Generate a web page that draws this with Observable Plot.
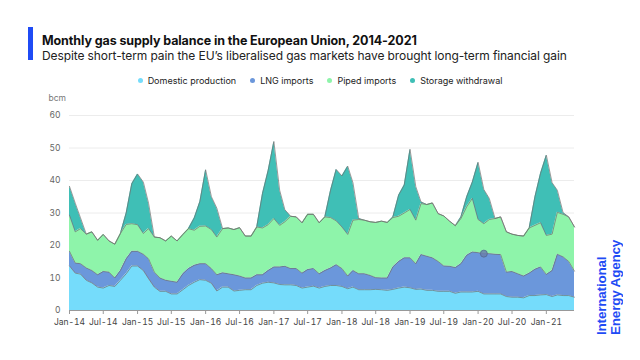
<!DOCTYPE html>
<html><head><meta charset="utf-8">
<script src="https://cdn.jsdelivr.net/npm/d3@7"></script>
<script src="https://cdn.jsdelivr.net/npm/@observablehq/plot@0.6"></script>
<style>
body{margin:0;width:640px;height:360px;background:#fff;font-family:Inter,"Noto Sans",sans-serif;position:relative;overflow:hidden}
#bar{position:absolute;left:28px;top:27px;width:5px;height:33px;background:#1f4bf5}
#title{position:absolute;left:42px;top:33px;font-size:12.5px;font-weight:700;color:#111;white-space:nowrap;letter-spacing:-0.1px}
#sub{position:absolute;left:42px;top:48px;font-size:12px;color:#222;white-space:nowrap;letter-spacing:-0.1px}
#legend{position:absolute;top:75px;left:0;width:640px;text-align:center;font-size:9px;color:#222;white-space:nowrap}
#legend span.item{margin:0 7px}
#legend span.dot{display:inline-block;width:5px;height:5px;border-radius:50%;margin-right:5px;vertical-align:1px}
#chart{position:absolute;left:0;top:90px}
#iea{position:absolute;left:595px;top:238px;height:97px;writing-mode:vertical-rl;transform:rotate(180deg);font-family:"Liberation Sans",Arial,sans-serif;font-weight:700;font-size:13.5px;line-height:14px;color:#1f4bf5;text-align:start;letter-spacing:-0.2px}
</style></head>
<body>
<div id="bar"></div>
<div id="title">Monthly gas supply balance in the European Union, 2014-2021</div>
<div id="sub">Despite short-term pain the EU’s liberalised gas markets have brought long-term financial gain</div>
<div id="legend"></div>
<div id="chart"></div>
<div id="iea">International<br>Energy Agency</div>
<script>
const seriesNames = ["Domestic production","LNG imports","Piped imports","Storage withdrawal"];
const seriesColors = ["#75dcfb","#6b97db","#8ef4aa","#3fbfb6"];
const startMonth = "2014-01";
const domestic = [13.7,11.5,11.2,9.3,8.5,7.2,6.9,7.7,7.4,9.3,11.3,13.7,
  13.7,12.3,9.8,7.2,5.9,5.9,5.1,5.1,6.4,7.7,8.7,9.5,
  9.3,8.4,6.0,7.2,7.2,6.0,6.2,6.4,6.4,7.7,8.4,8.7,
  8.5,8.0,7.9,7.9,7.7,6.9,7.2,7.5,6.9,7.4,7.7,7.7,
  7.4,6.7,7.2,6.4,6.4,6.4,6.5,6.4,6.2,6.5,6.9,7.2,
  7.0,6.5,6.6,6.2,6.2,5.9,5.9,5.9,5.3,5.7,5.7,5.7,
  5.9,5.1,5.1,5.1,5.1,4.3,4.1,4.1,3.9,4.6,4.6,4.8,
  4.9,4.3,4.8,4.6,4.6,4.1];
const lng = [4.5,3.1,3.2,3.8,3.8,3.8,5.1,4.1,2.6,3.0,4.6,4.5,
  4.5,5.0,6.1,4.6,4.1,3.4,3.9,3.6,4.9,5.2,5.2,4.9,
  5.1,4.5,5.0,4.4,4.1,5.0,4.4,3.6,3.6,3.3,2.6,3.6,
  4.9,5.4,5.7,5.0,5.2,4.6,5.4,5.4,4.4,4.9,5.4,6.4,
  5.5,3.9,5.1,4.9,4.9,4.4,3.6,3.6,3.8,6.9,8.2,9.0,
  9.2,7.9,10.6,10.5,10.0,9.2,7.8,7.7,7.9,8.7,11.3,12.3,
  11.9,12.4,12.4,12.2,12.1,7.5,7.9,7.2,6.7,6.9,8.1,8.6,
  6.2,8.0,12.5,11.9,10.5,8.0];
const piped = [11.1,9.6,10.8,10.4,11.9,10.6,11.4,9.6,10.4,11.4,10.6,8.5,
  8.2,6.4,9.3,10.8,12.4,12.1,13.9,12.7,12.1,12.3,10.8,11.5,
  11.6,12.0,11.6,13.6,14.1,13.9,14.9,12.9,12.9,14.7,14.4,14.1,
  14.9,12.8,13.7,16.1,15.9,15.5,17.0,16.7,15.7,16.5,15.5,13.5,
  12.8,12.8,15.5,16.7,16.5,16.5,17.0,17.5,17.1,15.2,13.9,13.8,
  14.9,13.4,15.7,15.9,16.9,14.7,15.4,13.9,12.9,13.9,14.9,16.5,
  10.2,9.2,10.5,11.0,11.6,12.4,11.5,11.8,12.3,13.9,13.5,13.6,
  12.0,11.2,12.9,13.1,13.7,13.6];
const storage = [8.9,8.8,3.3,0,0,0,0,0,0,0,3.5,12.3,
  15.6,15.8,7.8,0,0,0,0,0,0,0,3.8,7.6,
  17.3,10.1,8.9,0,0,0,0,0,0,0,10.6,16.6,
  23.7,10.8,3.7,0,0,0,0,0,0,0,8.4,15.8,
  15.7,21.0,11.5,0.3,0,0,0,0,0,0.2,6.5,8.6,
  18.5,10.3,0.5,0,0,0,0,0,0,0.5,3.1,5.0,
  17.6,10.5,6.5,0,0,0,0,0,0,0,8.8,15.2,
  24.7,15.8,6.8,0.5,0,0];
const xTickLabels = ["Jan-14","Jul-14","Jan-15","Jul-15","Jan-16","Jul-16","Jan-17","Jul-17","Jan-18","Jul-18","Jan-19","Jul-19","Jan-20","Jul-20","Jan-21"];
const yTicks = [0,10,20,30,40,50,60];
const highlightMonth = "Feb-20";

const parseLabel = d3.utcParse("%b-%y");
const start = d3.utcParse("%Y-%m")(startMonth);
const dates = domestic.map((_, i) => d3.utcMonth.offset(start, i));
const allSeries = [domestic, lng, piped, storage];
const data = [];
allSeries.forEach((vals, s) => vals.forEach((v, i) => data.push({date: dates[i], series: seriesNames[s], value: v})));
const hDate = parseLabel(highlightMonth);
const hi = dates.findIndex(d => +d === +hDate);
const highlight = [{date: hDate, value: domestic[hi] + lng[hi]}];

const leg = document.getElementById("legend");
leg.innerHTML = seriesNames.map((n, i) => `<span class="item"><span class="dot" style="background:${seriesColors[i]}"></span>${n}</span>`).join("");

const chart = Plot.plot({
  width: 640, height: 245,
  marginTop: 25, marginBottom: 25, marginLeft: 69, marginRight: 66,
  style: {fontFamily: "Inter, 'Noto Sans', sans-serif", fontSize: "8.5px", color: "#555", background: "transparent"},
  x: {type: "utc", domain: [dates[0], dates[dates.length - 1]], label: null},
  y: {domain: [0, 60], label: null},
  color: {domain: seriesNames, range: seriesColors},
  marks: [
    Plot.ruleY(yTicks.filter(d => d > 0), {stroke: "#ececec", strokeWidth: 1}),
    Plot.areaY(data, {x: "date", y: "value", z: "series", fill: "series", order: seriesNames}),
    Plot.lineY(data, Plot.stackY2({x: "date", y: "value", z: "series", order: seriesNames, stroke: "#707070", strokeWidth: 0.7})),
    Plot.ruleY([0], {stroke: "#999", strokeWidth: 1}),
    Plot.dot(highlight, {x: "date", y: "value", r: 3.5, fill: "#6a7fae", fillOpacity: 0.85, stroke: "#55688f", strokeWidth: 0.8}),
    Plot.axisY({ticks: yTicks, tickSize: 0, tickPadding: 9, fill: "#666"}),
    Plot.axisX({ticks: xTickLabels.map(parseLabel), tickFormat: d3.utcFormat("%b-%y"), tickSize: 4, tickPadding: 4, fill: "#444", stroke: "#999"}),
    Plot.text(["bcm"], {frameAnchor: "top-left", dx: -21, dy: -21, fill: "#777", fontSize: 8.5})
  ]
});
document.getElementById("chart").appendChild(chart);
</script>
</body></html>
